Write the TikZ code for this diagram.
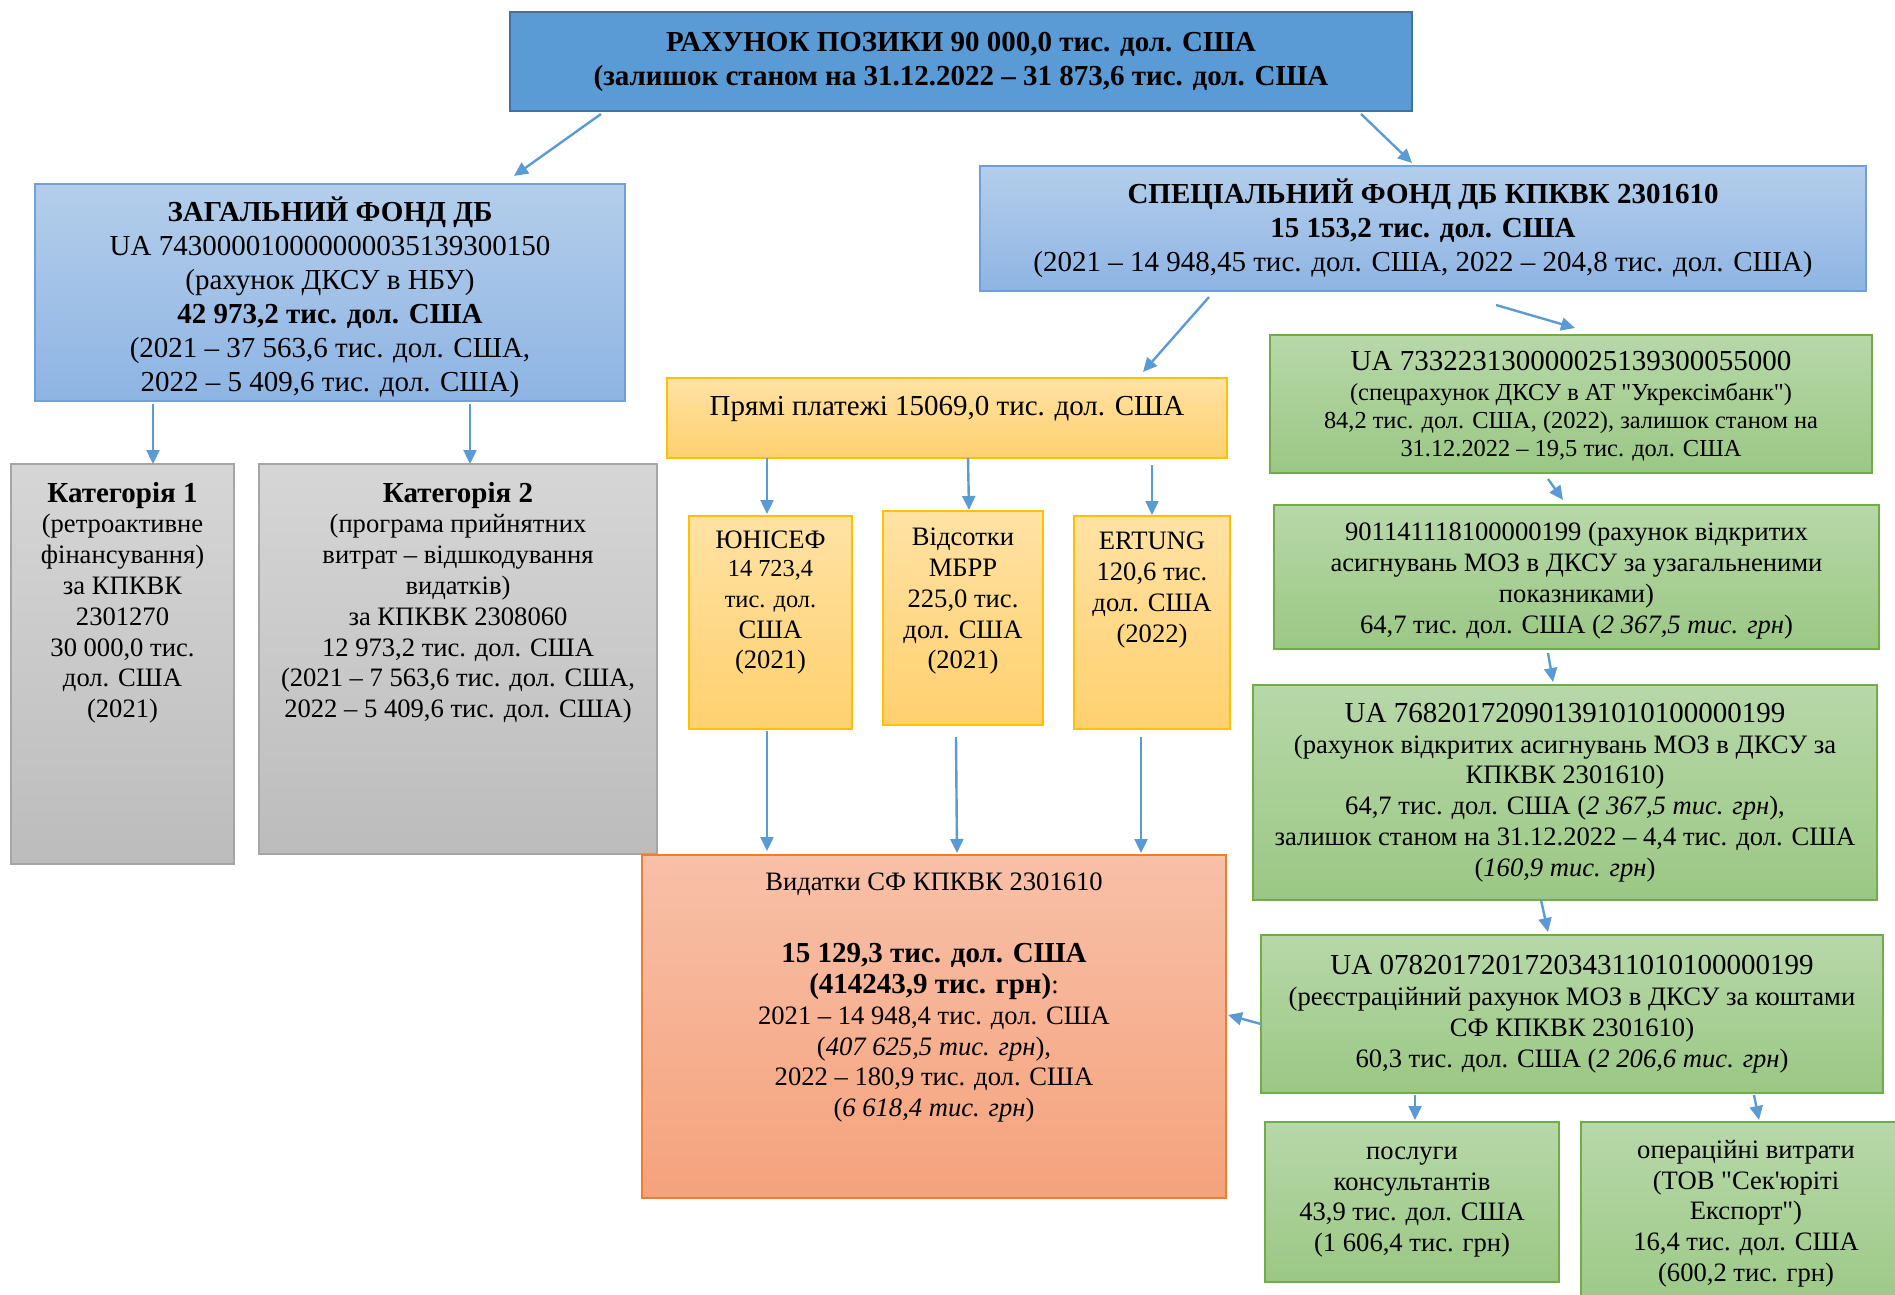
\documentclass[tikz,border=0pt]{standalone}
\usepackage{fontspec}
\IfFontExistsTF{LiberationSerif-Regular.ttf}{%
  \newfontfamily\cellfont{LiberationSerif}[Extension=.ttf,
    UprightFont=*-Regular, BoldFont=*-Bold,
    ItalicFont=*-Italic, BoldItalicFont=*-BoldItalic]}{%
  \newfontfamily\cellfont{Liberation Serif}}
\usetikzlibrary{arrows.meta, calc}

\definecolor{linkblue}{HTML}{5B9BD5}
\definecolor{topfill}{HTML}{5B9BD5}
\definecolor{topline}{HTML}{41719C}
\definecolor{fundtop}{HTML}{B4CEEB}
\definecolor{fundbot}{HTML}{8EB4E3}
\definecolor{fundline}{HTML}{6FA0DA}
\definecolor{cattop}{HTML}{D6D6D6}
\definecolor{catbot}{HTML}{BCBCBC}
\definecolor{catline}{HTML}{A5A5A5}
\definecolor{paytop}{HTML}{FFE2A4}
\definecolor{paybot}{HTML}{FFD06E}
\definecolor{payline}{HTML}{FFC000}
\definecolor{costtop}{HTML}{F8C0A8}
\definecolor{costbot}{HTML}{F5A27C}
\definecolor{costline}{HTML}{ED7D31}
\definecolor{acctop}{HTML}{B7D8A9}
\definecolor{accbot}{HTML}{9BC784}
\definecolor{accline}{HTML}{70AD47}

\newcommand{\fsA}{\fontsize{14.5}{17}\selectfont}
\newcommand{\fsB}{\fontsize{13.3}{15.4}\selectfont}
\newcommand{\fsC}{\fontsize{12.2}{13.9}\selectfont}
% text block, centred vertically / hung from the top
\newcommand{\midtext}[3]{\parbox[c][#2][c]{#1}{\centering #3}}
\newcommand{\toptext}[4]{\parbox[c][#2][t]{#1}{\centering\vspace*{#3}#4}}

\tikzset{
  bx/.style={draw, line width=0.9pt, anchor=north west, inner sep=0pt, outer sep=0pt, font=\cellfont},
  loanbox/.style={bx, draw=topline, fill=topfill},
  fundbox/.style={bx, draw=fundline, top color=fundtop, bottom color=fundbot},
  catbox/.style={bx, draw=catline, top color=cattop, bottom color=catbot},
  paybox/.style={bx, draw=payline, top color=paytop, bottom color=paybot},
  costbox/.style={bx, draw=costline, top color=costtop, bottom color=costbot},
  accbox/.style={bx, draw=accline, top color=acctop, bottom color=accbot},
  link/.style={draw=linkblue, line width=1.2pt, -{Triangle[length=7pt,width=6.5pt]}}
}

\begin{document}
\begin{tikzpicture}[x=0.5pt, y=-0.5pt]
  \path[use as bounding box, clip] (0,0) rectangle (1895,1295);

  % top level
  \node[loanbox] (loan) at (510,12) {\midtext{451pt}{49.5pt}{\fsA\bfseries
    РАХУНОК ПОЗИКИ 90 000,0 тис. дол. США\\
    (залишок станом на 31.12.2022 – 31 873,6 тис. дол. США}};

  % funds
  \node[fundbox] (gen) at (35,184) {\midtext{295pt}{108.5pt}{\vspace*{4.5pt}\fsA
    {\bfseries ЗАГАЛЬНИЙ ФОНД ДБ}\\
    UA 743000010000000035139300150\\
    (рахунок ДКСУ в НБУ)\\
    {\bfseries 42 973,2 тис. дол. США}\\
    (2021 – 37 563,6 тис. дол. США,\\
    2022 – 5 409,6 тис. дол. США)}};
  \node[fundbox] (spec) at (980,166) {\midtext{443pt}{62.5pt}{\fsA
    {\bfseries СПЕЦІАЛЬНИЙ ФОНД ДБ КПКВК 2301610}\\
    {\bfseries 15 153,2 тис. дол. США}\\
    (2021 – 14 948,45 тис. дол. США, 2022 – 204,8 тис. дол. США)}};

  % categories
  \node[catbox] (cat1) at (11,464) {\toptext{111.5pt}{200pt}{9pt}{\fsB
    {\fsA\bfseries Категорія 1}\\
    (ретроактивне\\ фінансування)\\ за КПКВК\\ 2301270\\
    30 000,0 тис.\\ дол. США\\ (2021)}};
  \node[catbox] (cat2) at (259,464) {\toptext{199pt}{195pt}{9pt}{\fsB
    {\fsA\bfseries Категорія 2}\\
    (програма прийнятних\\ витрат – відшкодування\\ видатків)\\
    за КПКВК 2308060\\ 12 973,2 тис. дол. США\\
    (2021 – 7 563,6 тис. дол. США,\\ 2022 – 5 409,6 тис. дол. США)}};

  % direct payments
  \node[paybox] (pay) at (667,378) {\toptext{280pt}{40pt}{9pt}{\fsA
    Прямі платежі 15069,0 тис. дол. США}};
  \node[paybox] (unicef) at (689,516) {\toptext{81.5pt}{106.5pt}{7.5pt}{\fsB
    ЮНІСЕФ\\ {\fsC 14 723,4\\ тис. дол.}\\ США\\ (2021)}};
  \node[paybox] (ibrd) at (883,511) {\toptext{80pt}{107pt}{8.5pt}{\fsB
    Відсотки\\ МБРР\\ 225,0 тис.\\ дол. США\\ (2021)}};
  \node[paybox] (ertung) at (1074,516) {\toptext{78pt}{106.5pt}{8pt}{\fsB
    ERTUNG\\ 120,6 тис.\\ дол. США\\ (2022)}};

  % expenses
  \node[costbox] (cost) at (642,855) {\toptext{292pt}{171.5pt}{9pt}{\fsB
    Видатки СФ КПКВК 2301610\\[19pt]
    {\fsA\bfseries 15 129,3 тис. дол. США\\ (414243,9 тис. грн)}:\\
    2021 – 14 948,4 тис. дол. США\\
    (\textit{407 625,5 тис. грн}),\\
    2022 – 180,9 тис. дол. США\\
    (\textit{6 618,4 тис. грн})}};

  % accounts
  \node[accbox] (acc1) at (1270,335) {\midtext{301pt}{69pt}{\vspace*{2pt}%
    {\fsA UA 733223130000025139300055000\par}\vspace{1.2pt}\fsC
    (спецрахунок ДКСУ в АТ "Укрексімбанк")\\
    84,2 тис. дол. США, (2022), залишок станом на\\
    31.12.2022 – 19,5 тис. дол. США}};
  \node[accbox] (acc2) at (1274,505) {\midtext{302.5pt}{72pt}{\vspace*{3.6pt}\fsB
    901141118100000199 (рахунок відкритих\\
    асигнувань МОЗ в ДКСУ за узагальненими\\
    показниками)\\
    64,7 тис. дол. США (\textit{2 367,5 тис. грн})}};
  \node[accbox] (acc3) at (1253,685) {\midtext{312pt}{107.5pt}{%
    {\fsA UA 768201720901391010100000199\par}\fsB
    (рахунок відкритих асигнувань МОЗ в ДКСУ за\\
    КПКВК 2301610)\\
    64,7 тис. дол. США (\textit{2 367,5 тис. грн}),\\
    залишок станом на 31.12.2022 – 4,4 тис. дол. США\\
    (\textit{160,9 тис. грн})}};
  \node[accbox] (acc4) at (1261,935) {\midtext{311pt}{79pt}{%
    {\fsA UA 078201720172034311010100000199\par}\fsB
    (реєстраційний рахунок МОЗ в ДКСУ за коштами\\
    СФ КПКВК 2301610)\\
    60,3 тис. дол. США (\textit{2 206,6 тис. грн})}};
  \node[accbox] (consult) at (1265,1122) {\midtext{147pt}{80pt}{\fsB
    послуги\\ консультантів\\ 43,9 тис. дол. США\\ (1 606,4 тис. грн)}};
  \node[accbox] (oper) at (1581,1122) {\toptext{165pt}{100pt}{9pt}{\fsB
    операційні витрати\\ (ТОВ "Сек'юріті\\ Експорт")\\
    16,4 тис. дол. США\\ (600,2 тис. грн)}};

  % connectors
  \draw[link] ($(loan.south west)+(91,3)$) -- ($(gen.north west)+(479,-8)$);
  \draw[link] ($(loan.south east)+(-51,3)$) -- ($(spec.north west)+(432,-3)$);
  \draw[link] ($(gen.south west)+(118,3)$) -- ($(cat1.north west)+(142,0)$);
  \draw[link] ($(gen.south west)+(435,3)$) -- ($(cat2.north west)+(211,0)$);
  \draw[link] ($(spec.south west)+(229,6)$) -- ($(pay.north west)+(476,-6)$);
  \draw[link] ($(spec.south west)+(516,14)$) -- ($(acc1.north west)+(305,-7)$);
  \draw[link] ($(pay.south west)+(100,0)$) -- ($(unicef.north west)+(78,-2)$);
  \draw[link] ($(pay.south west)+(301,0)$) -- ($(ibrd.north west)+(86,-1)$);
  \draw[link] ($(pay.south west)+(485,7)$) -- ($(ertung.north west)+(78,-1)$);
  \draw[link] ($(unicef.south west)+(78,2)$) -- ($(cost.north west)+(125,-4)$);
  \draw[link] ($(ibrd.south west)+(73,12)$) -- ($(cost.north west)+(315,-2)$);
  \draw[link] ($(ertung.south west)+(67,8)$) -- ($(cost.north west)+(499,-2)$);
  \draw[link] ($(acc1.south west)+(278,6)$) -- ($(acc2.north west)+(289,-5)$);
  \draw[link] ($(acc2.south west)+(274,4)$) -- ($(acc3.north west)+(300,-3)$);
  \draw[link] ($(acc3.south west)+(288,0)$) -- ($(acc4.north west)+(287,-3)$);
  \draw[link] ($(acc4.north west)+(0,89)$) -- ($(cost.north east)+(2,160)$);
  \draw[link] ($(acc4.south west)+(154,2)$) -- ($(consult.north west)+(150,-2)$);
  \draw[link] ($(acc4.south west)+(493,2)$) -- ($(oper.north west)+(178,-2)$);
\end{tikzpicture}
\end{document}
